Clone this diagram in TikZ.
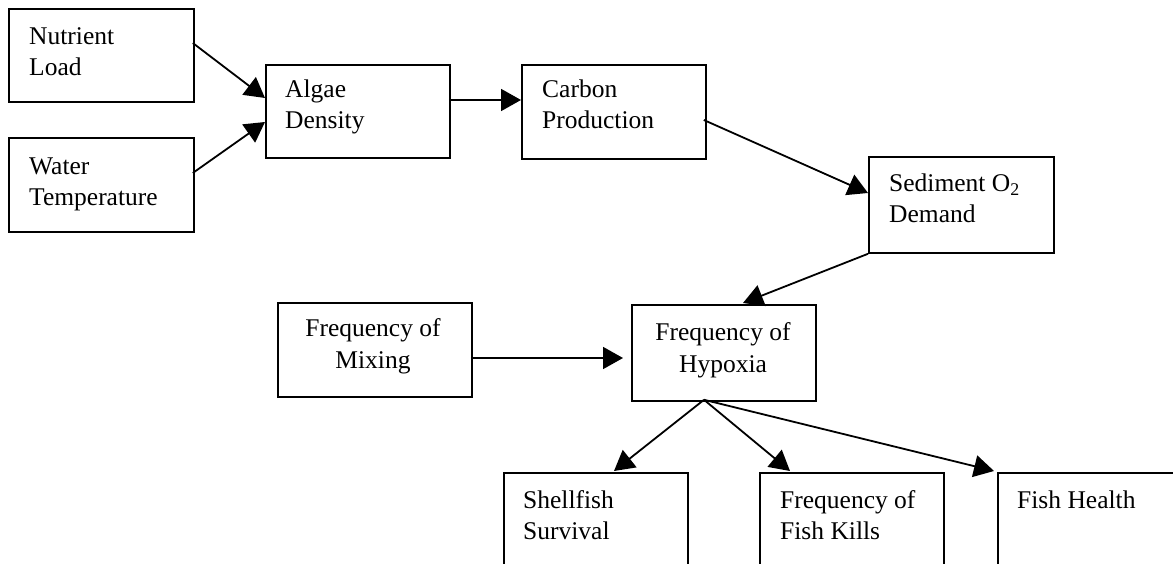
\documentclass[tikz,border=0pt]{standalone}
\usepackage{fontspec}
\setmainfont{Liberation Serif}
\usetikzlibrary{arrows.meta,calc}
\tikzset{
  box/.style={draw=black, line width=1.8pt, inner sep=0pt, anchor=north west},
  txt/.style={inner sep=0pt, align=left, font=\fontsize{25.5}{31}\selectfont},
  ctxt/.style={inner sep=0pt, align=center, font=\fontsize{25.5}{32}\selectfont},
  link/.style={line width=1.8pt, -{Triangle[length=20pt,width=22pt]}}
}
\begin{document}
\begin{tikzpicture}[x=1pt,y=-1pt]
\useasboundingbox (0,0) rectangle (1173,564);
% boxes
\node[box, minimum width=185pt, minimum height=93pt] (nut) at (8,8) {};
\node[box, minimum width=185pt, minimum height=94pt] (wat) at (8,137) {};
\node[box, minimum width=184pt, minimum height=93pt] (alg) at (265,64) {};
\node[box, minimum width=184pt, minimum height=94pt] (car) at (521,64) {};
\node[box, minimum width=185pt, minimum height=96pt] (sed) at (868,156) {};
\node[box, minimum width=194pt, minimum height=94pt] (mix) at (277,302) {};
\node[box, minimum width=184pt, minimum height=96pt] (hyp) at (631,304) {};
\node[box, minimum width=184pt, minimum height=110pt] (shell) at (503,472) {};
\node[box, minimum width=184pt, minimum height=110pt] (kills) at (759,472) {};
\node[box, minimum width=200pt, minimum height=110pt] (health) at (997,472) {};
% texts (base anchor = baseline of the last line)
\node[txt, anchor=base west] (nut-t) at (29,76) {Nutrient\\Load};
\node[txt, anchor=base west] (wat-t) at (29,206) {Water\\Temperature};
\node[txt, anchor=base west] (alg-t) at (285,129) {Algae\\Density};
\node[txt, anchor=base west] (car-t) at (542,129) {Carbon\\Production};
\node[txt, anchor=base west] (sed-t) at (889,223) {Sediment O\textsubscript{2}\\Demand};
\node[ctxt, anchor=base] (mix-t) at (373,368) {Frequency of\\Mixing};
\node[ctxt, anchor=base] (hyp-t) at (723,372) {Frequency of\\Hypoxia};
\node[txt, anchor=base west] (shell-t) at (523,539) {Shellfish\\Survival};
\node[txt, anchor=base west] (kills-t) at (780,539) {Frequency of\\Fish Kills};
\node[txt, anchor=base west] (health-t) at (1017,508) {Fish Health};
% connectors
\draw[link] ($(nut.north east)+(-2,35)$) -- ($(alg.north west)+(0,34)$);
\draw[link] ($(wat.north east)+(-2,36)$) -- ($(alg.north west)+(0,58)$);
\draw[link] ($(alg.north east)+(-2,36)$) -- ($(car.north west)+(0,36)$);
\draw[link] ($(car.north east)+(-3,56)$) -- ($(sed.north west)+(0,37)$);
\draw[link] (sed.south west) -- ($(hyp.north west)+(112,-1)$);
\draw[link] ($(mix.north east)+(-2,56)$) -- ($(hyp.north west)+(-8,54)$);
\coordinate (jn) at ($(hyp.south west)+(73,-2)$);
\draw[link] (jn) -- ($(shell.north west)+(111,-1)$);
\draw[link] (jn) -- ($(kills.north west)+(31,-1)$);
\draw[link] (jn) -- ($(health.north west)+(-3,-1)$);
\end{tikzpicture}
\end{document}
